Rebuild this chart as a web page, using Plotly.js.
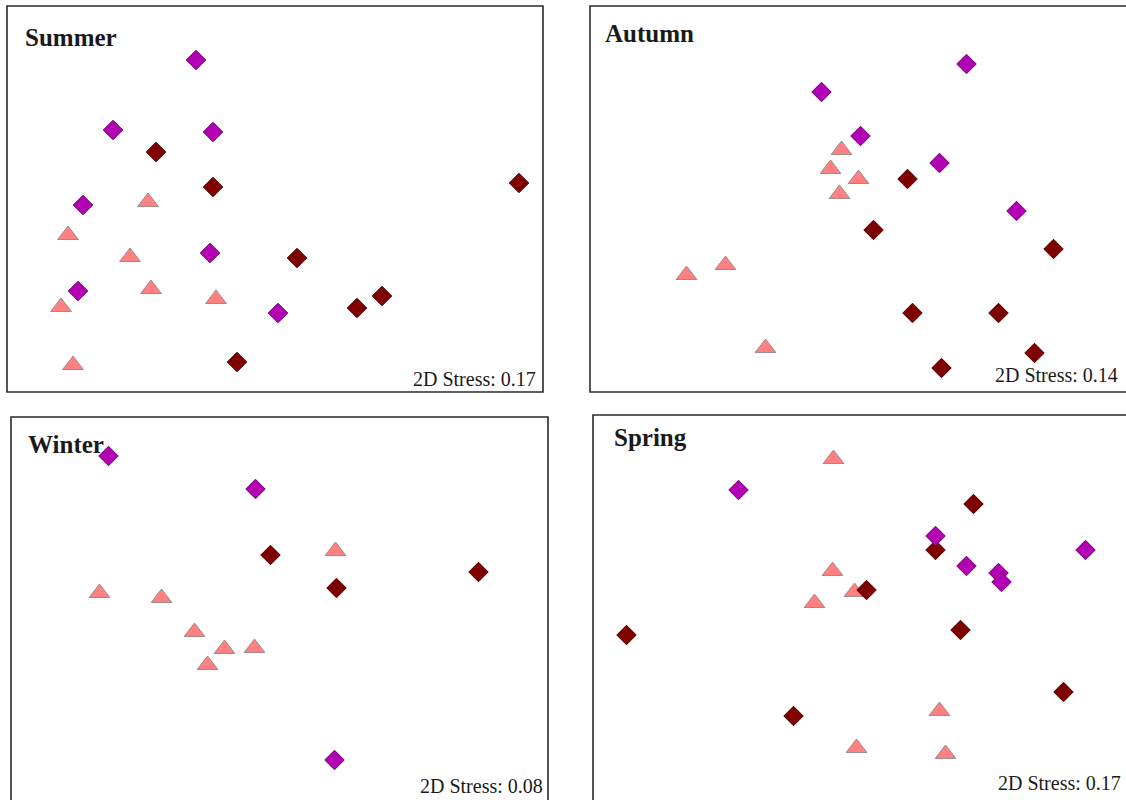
<!DOCTYPE html>
<html>
<head>
<meta charset="utf-8">
<script src="https://cdn.plot.ly/plotly-3.0.1.min.js"></script>
<style>html,body{margin:0;padding:0;background:#fff;}#chart{width:1126px;height:800px;}</style>
</head>
<body>
<div id="chart"></div>
<script>
// ---- Data: NMDS coordinates ----
const seasons = ["Summer", "Autumn", "Winter", "Spring"];
const stressValues = ["0.17", "0.14", "0.08", "0.17"];

// Summer
const summerMagentaX = [-0.79, -1.62, -0.62, -1.92, -0.65, -1.97, 0.03];
const summerMagentaY = [1.39, 0.69, 0.67, -0.06, -0.54, -0.92, -1.14];
const summerDarkX = [-1.19, -0.62, 2.44, 0.22, 1.07, 0.82, -0.38];
const summerDarkY = [0.47, 0.12, 0.16, -0.59, -0.97, -1.09, -1.63];
const summerTriX = [-1.27, -2.07, -1.45, -1.24, -0.59, -2.14, -2.02];
const summerTriY = [-0.03, -0.36, -0.58, -0.90, -1.00, -1.08, -1.66];

// Autumn
const autumnMagentaX = [1.08, -0.37, 0.02, 0.81, 1.58];
const autumnMagentaY = [1.35, 1.07, 0.63, 0.36, -0.12];
const autumnDarkX = [0.49, 0.15, 1.95, 0.54, 1.40, 1.76, 0.83];
const autumnDarkY = [0.20, -0.31, -0.50, -1.14, -1.14, -1.54, -1.69];
const autumnTriX = [-0.17, -0.28, 0.00, -0.19, -1.33, -1.72, -0.93];
const autumnTriY = [0.49, 0.30, 0.20, 0.05, -0.66, -0.76, -1.49];

// Winter
const winterMagentaX = [-1.71, -0.24, 0.55];
const winterMagentaY = [1.54, 1.21, -1.50];
const winterDarkX = [-0.09, 0.57, 1.99];
const winterDarkY = [0.55, 0.22, 0.38];
const winterTriX = [0.56, -1.80, -1.18, -0.85, -0.55, -0.25, -0.72];
const winterTriY = [0.59, 0.17, 0.12, -0.22, -0.39, -0.38, -0.55];

// Spring
const springMagentaX = [-1.23, 0.74, 1.05, 1.37, 1.40, 2.24];
const springMagentaY = [1.18, 0.72, 0.42, 0.35, 0.26, 0.58];
const springDarkX = [1.12, 0.74, 0.05, 0.99, -2.35, -0.68, 2.02];
const springDarkY = [1.04, 0.58, 0.18, -0.22, -0.27, -1.08, -0.84];
const springTriX = [-0.28, -0.29, -0.07, -0.47, 0.78, -0.05, 0.84];
const springTriY = [1.49, 0.37, 0.16, 0.05, -1.03, -1.40, -1.46];

const seriesBySeason = [
  {tri: [summerTriX, summerTriY], dark: [summerDarkX, summerDarkY], mag: [summerMagentaX, summerMagentaY]},
  {tri: [autumnTriX, autumnTriY], dark: [autumnDarkX, autumnDarkY], mag: [autumnMagentaX, autumnMagentaY]},
  {tri: [winterTriX, winterTriY], dark: [winterDarkX, winterDarkY], mag: [winterMagentaX, winterMagentaY]},
  {tri: [springTriX, springTriY], dark: [springDarkX, springDarkY], mag: [springMagentaX, springMagentaY]}
];

// ---- Layout geometry (pixels in the 1126x800 page) ----
const W = 1126, H = 800, UNIT = 100; // px per NMDS unit
const boxes = [
  {L: 7, R: 543, T: 6, B: 392, title: [24, 37], stress: [537, 379]},
  {L: 590, R: 1127, T: 6, B: 392, title: [604, 34], stress: [1119, 375]},
  {L: 11, R: 548, T: 417, B: 803, title: [27, 444], stress: [544, 786]},
  {L: 593, R: 1130, T: 415, B: 801, title: [613, 437], stress: [1122, 783]}
];

const styles = {
  tri: {symbol: "triangle-up", size: 18, color: "#ff8080", line: {color: "#a08a8a", width: 1}},
  dark: {symbol: "diamond", size: 15, color: "#800000", line: {color: "#4a0000", width: 1}},
  mag: {symbol: "diamond", size: 15, color: "#b400b4", line: {color: "#6a006a", width: 1}}
};

const traces = [];
const layout = {
  width: W, height: H,
  margin: {l: 0, r: 0, t: 0, b: 0},
  paper_bgcolor: "#ffffff", plot_bgcolor: "rgba(0,0,0,0)",
  showlegend: false,
  shapes: [], annotations: []
};

boxes.forEach((b, i) => {
  const n = i === 0 ? "" : String(i + 1);
  const cx = (b.L + b.R) / 2, cy = (b.T + b.B) / 2;
  const Rv = Math.min(b.R, W), Bv = Math.min(b.B, H);
  const axCommon = {showgrid: false, zeroline: false, showticklabels: false, ticks: "", showline: false, fixedrange: true};
  layout["xaxis" + n] = Object.assign({}, axCommon, {
    domain: [b.L / W, Rv / W], range: [(b.L - cx) / UNIT, (Rv - cx) / UNIT], anchor: "y" + n
  });
  layout["yaxis" + n] = Object.assign({}, axCommon, {
    domain: [1 - Bv / H, 1 - b.T / H], range: [(cy - Bv) / UNIT, (cy - b.T) / UNIT], anchor: "x" + n
  });
  layout.shapes.push({
    type: "rect", xref: "paper", yref: "paper",
    x0: b.L / W, x1: b.R / W, y0: 1 - b.B / H, y1: 1 - b.T / H,
    line: {color: "#2a2a2a", width: 1.6}, fillcolor: "rgba(0,0,0,0)", layer: "below"
  });
  layout.annotations.push({
    xref: "paper", yref: "paper", x: b.title[0] / W, y: 1 - b.title[1] / H,
    xanchor: "left", yanchor: "middle", showarrow: false, borderpad: 0,
    text: "<b>" + seasons[i] + "</b>",
    font: {family: "Liberation Serif, Times New Roman, serif", size: 25, color: "#1a1a1a"}
  });
  layout.annotations.push({
    xref: "paper", yref: "paper", x: b.stress[0] / W, y: 1 - b.stress[1] / H,
    xanchor: "right", yanchor: "middle", showarrow: false, borderpad: 0,
    text: "2D Stress: " + stressValues[i],
    font: {family: "Liberation Serif, Times New Roman, serif", size: 20, color: "#1a1a1a"}
  });
  const s = seriesBySeason[i];
  ["tri", "dark", "mag"].forEach(k => {
    traces.push({
      type: "scatter", mode: "markers",
      x: s[k][0], y: s[k][1],
      xaxis: "x" + n, yaxis: "y" + n,
      marker: styles[k], cliponaxis: false, hoverinfo: "skip"
    });
  });
});

Plotly.newPlot("chart", traces, layout, {staticPlot: true, displayModeBar: false});
</script>
</body>
</html>
